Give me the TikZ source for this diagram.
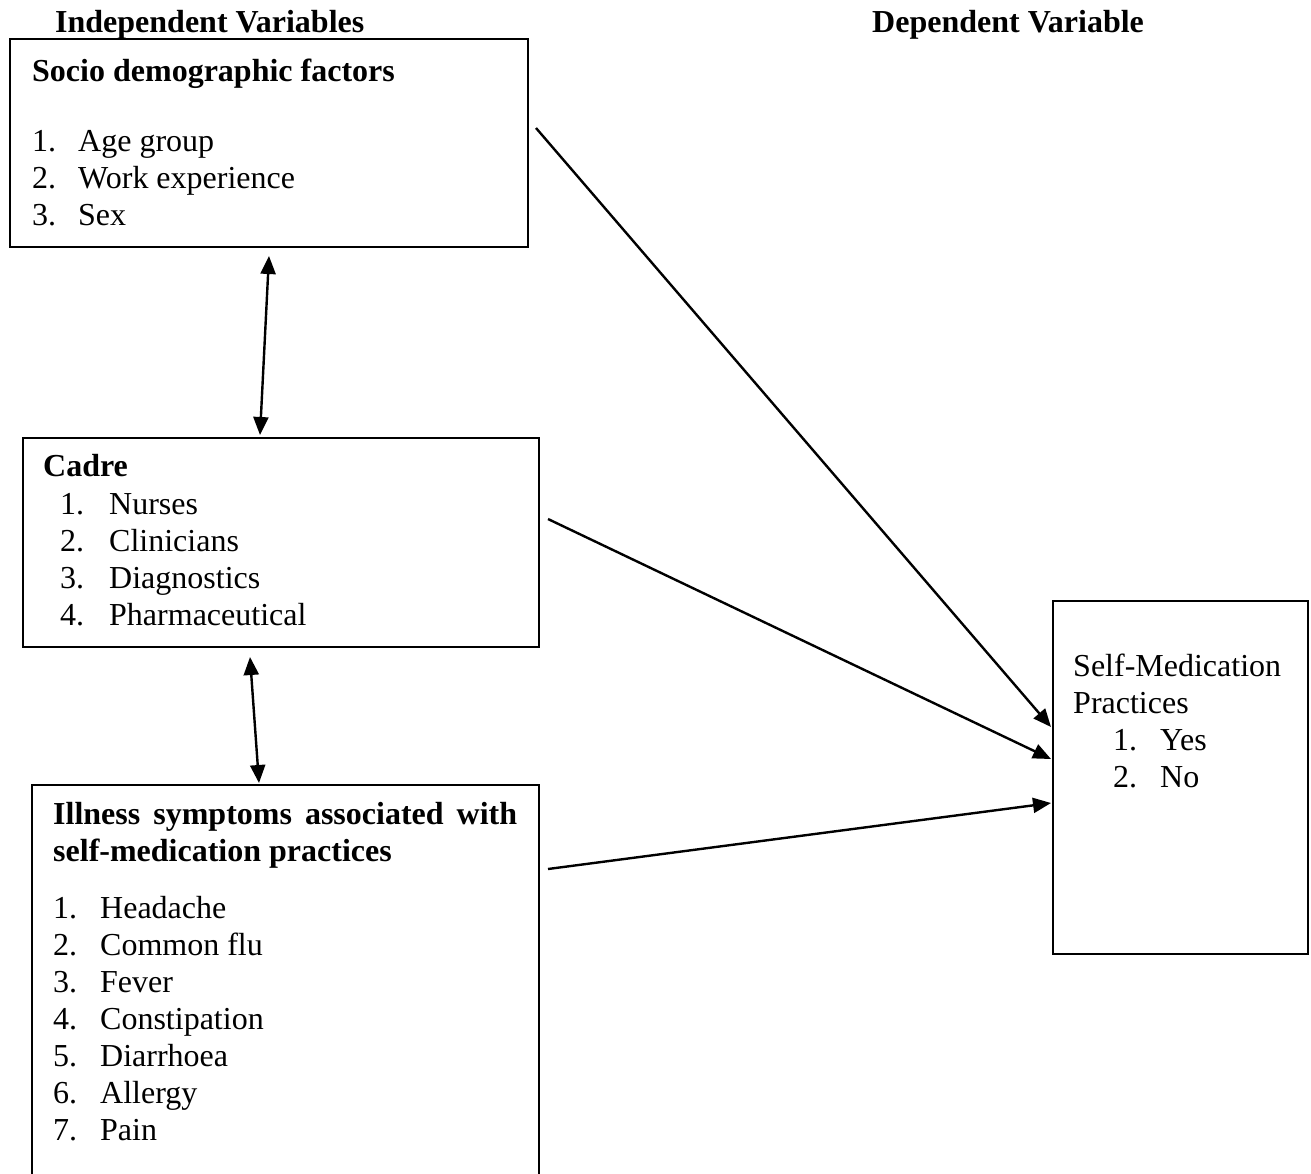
\documentclass[tikz,border=0pt]{standalone}
\usepackage{fontspec}
\setmainfont{Liberation Serif}
\usetikzlibrary{arrows.meta}
\begin{document}
\begin{tikzpicture}[x=1pt,y=-1pt,
  box/.style={draw, line width=1.8pt, rectangle, inner sep=0pt, anchor=north west},
  txt/.style={anchor=base west, inner sep=0pt, font=\fontsize{32pt}{37pt}\selectfont},
  btxt/.style={anchor=base west, inner sep=0pt, font=\fontsize{32pt}{37pt}\selectfont\bfseries},
  tip/.tip={Triangle[length=18pt,width=15pt]},
  conn/.style={line width=2.4pt, -tip},
  dconn/.style={line width=2.4pt, tip-tip}]
\useasboundingbox (0,0) rectangle (1311,1173);
\clip (0,0) rectangle (1311,1173);
\fill[white] (0,0) rectangle (1311,1173);

% titles
\node[btxt] (tind) at (55,32) {Independent Variables};
\node[btxt] (tdep) at (872,32) {Dependent Variable};

% boxes
\node[box, minimum width=518pt, minimum height=208pt] (socio) at (9,38) {};
\node[box, minimum width=516pt, minimum height=209pt] (cadre) at (22,437) {};
\node[box, minimum width=507pt, minimum height=420pt] (ill) at (31,784) {};
\node[box, minimum width=255pt, minimum height=353pt] (smp) at (1052,600) {};

% box 1 text
\node[btxt] (s0) at (32,81) {Socio demographic factors};
\node[txt] (s1n) at (32,151) {1.}; \node[txt] (s1) at (78,151) {Age group};
\node[txt] (s2n) at (32,188) {2.}; \node[txt] (s2) at (78,188) {Work experience};
\node[txt] (s3n) at (32,225) {3.}; \node[txt] (s3) at (78,225) {Sex};

% box 2 text
\node[btxt] (c0) at (43,476) {Cadre};
\node[txt] (c1n) at (60,514) {1.}; \node[txt] (c1) at (109,514) {Nurses};
\node[txt] (c2n) at (60,551) {2.}; \node[txt] (c2) at (109,551) {Clinicians};
\node[txt] (c3n) at (60,588) {3.}; \node[txt] (c3) at (109,588) {Diagnostics};
\node[txt] (c4n) at (60,625) {4.}; \node[txt] (c4) at (109,625) {Pharmaceutical};

% box 3 text
\node[btxt] (i0a) at (53,824) {\makebox[464pt][s]{Illness symptoms associated with}};
\node[btxt] (i0b) at (53,861) {self-medication practices};
\node[txt] (i1n) at (53,918) {1.}; \node[txt] (i1) at (100,918) {Headache};
\node[txt] (i2n) at (53,955) {2.}; \node[txt] (i2) at (100,955) {Common flu};
\node[txt] (i3n) at (53,992) {3.}; \node[txt] (i3) at (100,992) {Fever};
\node[txt] (i4n) at (53,1029) {4.}; \node[txt] (i4) at (100,1029) {Constipation};
\node[txt] (i5n) at (53,1066) {5.}; \node[txt] (i5) at (100,1066) {Diarrhoea};
\node[txt] (i6n) at (53,1103) {6.}; \node[txt] (i6) at (100,1103) {Allergy};
\node[txt] (i7n) at (53,1140) {7.}; \node[txt] (i7) at (100,1140) {Pain};

% box 4 text
\node[txt] (m0a) at (1073,676) {Self-Medication};
\node[txt] (m0b) at (1073,713) {Practices};
\node[txt] (m1n) at (1113,750) {1.}; \node[txt] (m1) at (1160,750) {Yes};
\node[txt] (m2n) at (1113,787) {2.}; \node[txt] (m2) at (1160,787) {No};

% connector end points
\coordinate (a1) at (269,256); \coordinate (a2) at (260,435);
\coordinate (b1) at (250,657); \coordinate (b2) at (259,783);
\coordinate (c1) at (536,128); \coordinate (c2) at (1051,727);
\coordinate (d1) at (548,519); \coordinate (d2) at (1051,759);
\coordinate (e1) at (548,869); \coordinate (e2) at (1051,803);

\draw[dconn] (a1) -- (a2);
\draw[dconn] (b1) -- (b2);
\draw[conn] (c1) -- (c2);
\draw[conn] (d1) -- (d2);
\draw[conn] (e1) -- (e2);
\end{tikzpicture}
\end{document}
